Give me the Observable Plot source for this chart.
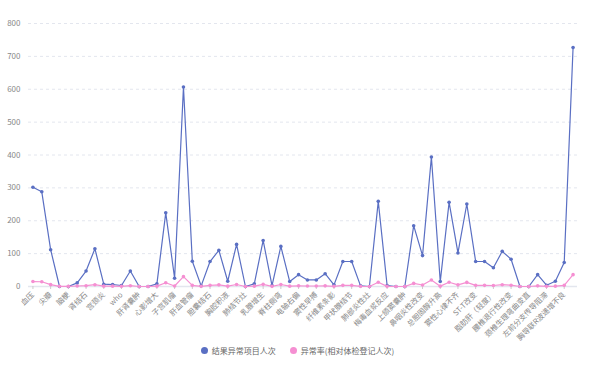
<!DOCTYPE html>
<html>
<head>
<meta charset="utf-8">
<script src="https://cdn.jsdelivr.net/npm/d3@7"></script>
<script src="https://cdn.jsdelivr.net/npm/@observablehq/plot@0.6"></script>
<style>
  html, body { margin: 0; padding: 0; background: #fff; }
  body { width: 589px; height: 369px; overflow: hidden; font-family: "Noto Sans CJK SC", "Noto Sans", sans-serif; }
  #chart svg { display: block; }
  #legend { display: flex; justify-content: center; align-items: center; gap: 14px; height: 18px; margin-top: -5px; font-size: 8px; color: #666; padding-left: 6px; position: relative; }
  .item { display: flex; align-items: center; gap: 4px; }
  .sw { width: 7px; height: 7px; border-radius: 50%; display: inline-block; }
</style>
</head>
<body>
<div id="chart"></div>
<div id="legend"></div>
<script>
const categories = [
  "血压","心率","尖瓣","尿蛋白","脑梗","尿潜血","肾结石","肾囊肿","宫颈炎","阴道炎",
  "who","胆囊息肉","肝肾囊肿","视力下降","心影增大","甲状腺囊肿","子宫肌瘤","血尿酸升高","肝血管瘤","肝囊肿",
  "胆囊结石","前列腺增生","胸腔积液","肺纹理增多","肺结节灶","主动脉硬化","乳腺增生","乳腺结节","脊柱侧弯","颈椎病",
  "电轴右偏","电轴左偏","窦性早搏","窦性心动过缓","纤维素条影","肺气肿","甲状腺结节","慢性咽炎","肺部炎性灶","牙周炎",
  "梅毒血浆反应","乙肝表面抗原阳性","上颌窦囊肿","鼻窦炎","鼻咽炎性改变","低密度脂蛋白升高","总胆固醇升高","甘油三酯升高","窦性心律不齐","血糖升高",
  "ST-T改变","肝功能异常","脂肪肝（轻度）","窦性心动过速","腰椎退行性改变","右束支传导阻滞","颈椎生理弯曲变直","T波改变","左前分支传导阻滞","骨质增生",
  "胸导联R波递增不良","超重"
];
const abnormalCount = [
  302, 288, 112, 0, 0, 11, 47, 115, 7, 6,
  3, 47, 0, 0, 8, 224, 25, 607, 77, 2,
  76, 110, 16, 128, 0, 8, 140, 3, 122, 15,
  36, 20, 20, 39, 5, 76, 76, 2, 0, 259,
  3, 0, 0, 185, 94, 394, 15, 256, 102, 251,
  76, 76, 57, 107, 83, 0, 0, 36, 4, 16,
  73, 727
];
const abnormalRate = [
  15, 14.5, 5.6, 0.5, 0.5, 1.5, 2.5, 5.5, 1, 1,
  0.5, 2.5, 0, 0, 1, 11.5, 1.5, 30, 3.5, 0.5,
  3.5, 5, 1, 6, 0, 1, 6.5, 0.5, 6, 1,
  2, 1.5, 1.5, 2, 0.5, 3.5, 3.5, 0.5, 0, 13,
  0.5, 0, 0, 9.5, 4.5, 20, 1, 13, 5, 12.5,
  3.5, 3.5, 3, 5.5, 4, 0, 0, 2, 0.5, 1,
  3.5, 36
];
const yTicks = [0, 100, 200, 300, 400, 500, 600, 700, 800];
const seriesNames = ["结果异常项目人次", "异常率(相对体检登记人次)"];
const seriesColors = ["#5a6fc3", "#f58fd2"];

const data = [
  ...categories.map((c, i) => ({cat: c, value: abnormalCount[i], series: seriesNames[0]})),
  ...categories.map((c, i) => ({cat: c, value: abnormalRate[i], series: seriesNames[1]}))
];
const shownTicks = categories.filter((_, i) => i % 2 === 0);

const chart = Plot.plot({
  width: 589,
  height: 346,
  marginLeft: 28,
  marginRight: 12,
  marginTop: 23,
  marginBottom: 60,
  style: {fontFamily: '"Noto Sans CJK SC", "Noto Sans", sans-serif', background: "#fff"},
  x: {type: "point", domain: categories, padding: 0.5, label: null},
  y: {domain: [0, 800], label: null},
  color: {domain: seriesNames, range: seriesColors},
  marks: [
    Plot.gridY(yTicks, {stroke: "#e3e6ee", strokeOpacity: 1, strokeDasharray: "3,3"}),
    Plot.ruleY([0], {stroke: "#e3e6ee", strokeWidth: 1.5}),
    Plot.axisY(yTicks, {tickSize: 0, tickPadding: 8, fontSize: 8, color: "#888", label: null}),
    Plot.axisX(shownTicks, {tickRotate: -45, tickSize: 3, tickPadding: 4, fontSize: 7.5, color: "#888", stroke: "#ccc", label: null}),
    Plot.line(data.filter(d => d.series === seriesNames[0]), {x: "cat", y: "value", stroke: "series", strokeWidth: 1.2}),
    Plot.dot(data.filter(d => d.series === seriesNames[0]), {x: "cat", y: "value", fill: "series", r: 1.8}),
    Plot.line(data.filter(d => d.series === seriesNames[1]), {x: "cat", y: "value", stroke: "series", strokeWidth: 1.2}),
    Plot.dot(data.filter(d => d.series === seriesNames[1]), {x: "cat", y: "value", fill: "series", r: 1.8})
  ]
});
document.getElementById("chart").appendChild(chart);

const legend = document.getElementById("legend");
seriesNames.forEach((name, i) => {
  const item = document.createElement("div");
  item.className = "item";
  const sw = document.createElement("span");
  sw.className = "sw";
  sw.style.background = seriesColors[i];
  const label = document.createElement("span");
  label.textContent = name;
  item.appendChild(sw);
  item.appendChild(label);
  legend.appendChild(item);
});
</script>
</body>
</html>
